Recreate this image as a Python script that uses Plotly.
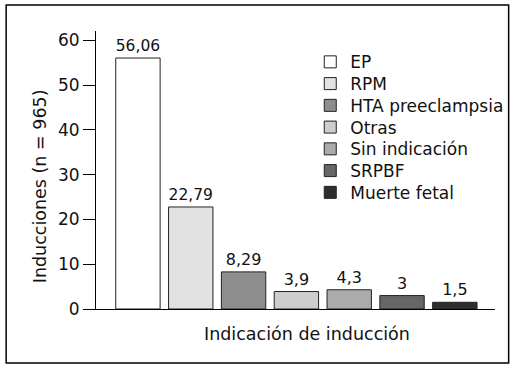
import plotly.graph_objects as go

categories = ["EP", "RPM", "HTA preeclampsia", "Otras", "Sin indicación", "SRPBF", "Muerte fetal"]
values = [56.06, 22.79, 8.29, 3.9, 4.3, 3, 1.5]
value_labels = ["56,06", "22,79", "8,29", "3,9", "4,3", "3", "1,5"]
colors = ["#ffffff", "#e2e2e2", "#8e8e8e", "#cdcdcd", "#ababab", "#666666", "#2e2e2e"]
y_ticks = [0, 10, 20, 30, 40, 50, 60]

FONT = "DejaVu Sans, Liberation Sans, Arial, sans-serif"
TXT = "#111111"

# plot area in pixels: x 96..500, y 31..309
PLOT_TOP, PLOT_BOTTOM = 31, 309
legend_names = ["legend"] + [f"legend{i}" for i in range(2, 8)]

fig = go.Figure()
for i, (cat, val, lab, col) in enumerate(zip(categories, values, value_labels, colors)):
    fig.add_trace(go.Bar(
        x=[cat], y=[val], name=cat, legend=legend_names[i],
        text=[lab], textposition="outside", cliponaxis=False,
        textfont=dict(size=16, color=TXT, family=FONT),
        marker=dict(color=col, line=dict(color="#222222", width=1)),
        width=0.84,
    ))

legend_layout = {}
for i, name in enumerate(legend_names):
    yc = 62.3 + 21.75 * i
    legend_layout[name] = dict(
        x=0.537, y=(PLOT_BOTTOM - yc) / (PLOT_BOTTOM - PLOT_TOP),
        xanchor="left", yanchor="middle",
        font=dict(size=17, family=FONT, color=TXT),
        bgcolor="rgba(0,0,0,0)", itemwidth=30,
    )

fig.update_layout(
    width=521, height=369,
    margin=dict(l=96, r=21, t=31, b=60),
    paper_bgcolor="white", plot_bgcolor="white",
    barmode="overlay",
    font=dict(family=FONT, size=17, color=TXT),
    showlegend=True,
    xaxis=dict(showticklabels=False, ticks="", showline=True, linecolor="black",
               linewidth=1, showgrid=False, range=[-0.794, 6.76], zeroline=False),
    yaxis=dict(range=[0, 62.1], tickvals=y_ticks, ticks="outside", ticklen=12,
               tickcolor="black", showline=True, linecolor="black", linewidth=1,
               showgrid=False, zeroline=False,
               tickfont=dict(size=17, family=FONT, color=TXT)),
    annotations=[
        dict(text="Indicación de inducción", xref="paper", yref="paper",
             x=0.528, y=-0.09, xanchor="center", yanchor="middle", showarrow=False,
             font=dict(size=17.5, family=FONT, color=TXT)),
        dict(text="Inducciones (n = 965)", xref="paper", yref="paper",
             x=-0.14, y=0.442, xanchor="center", yanchor="middle", showarrow=False,
             textangle=-90, font=dict(size=17.5, family=FONT, color=TXT)),
    ],
    shapes=[dict(type="rect", xref="paper", yref="paper",
                 x0=-0.2252, x1=1.0342, y0=-0.1942, y1=1.0935,
                 line=dict(color="black", width=1.5))],
    **legend_layout,
)

fig.write_html("out.html", config={"displayModeBar": False},
               post_script="document.body.style.margin='0';document.body.style.padding='0';document.body.style.overflow='hidden';")
